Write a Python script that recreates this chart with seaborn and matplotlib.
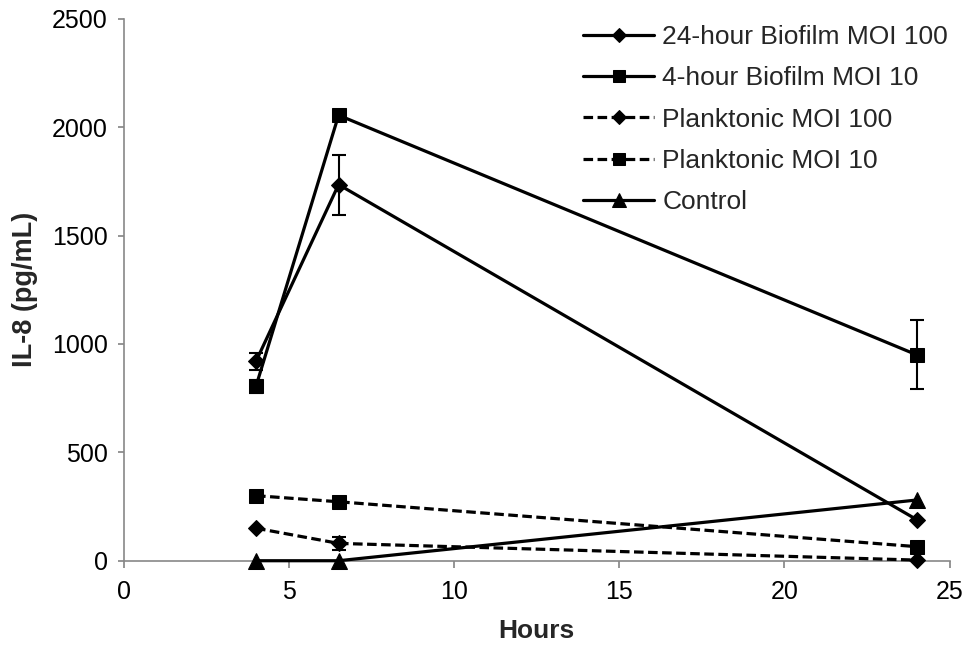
import numpy as np
import pandas as pd
import seaborn as sns
import matplotlib.pyplot as plt

hours = [4, 6.5, 24]
series_names = ["24-hour Biofilm MOI 100", "4-hour Biofilm MOI 10",
                "Planktonic MOI 100", "Planktonic MOI 10", "Control"]
biofilm24_moi100 = [920, 1735, 190]
biofilm4_moi10 = [805, 2055, 950]
plank_moi100 = [150, 80, 3]
plank_moi10 = [300, 272, 65]
control = [0, 0, 280]

err_biofilm24_moi100 = [40, 138, 0]
err_biofilm4_moi10 = [30, 20, 160]
err_plank_moi100 = [0, 30, 0]
err_plank_moi10 = [0, 0, 0]
err_control = [0, 0, 0]

sns.set_theme(style="white")
plt.rcParams['font.family'] = ['Liberation Sans', 'DejaVu Sans']

values = [biofilm24_moi100, biofilm4_moi10, plank_moi100, plank_moi10, control]
errors = [err_biofilm24_moi100, err_biofilm4_moi10, err_plank_moi100, err_plank_moi10, err_control]
markers = ["D", "s", "D", "s", "^"]
msizes = [8.5, 10.5, 8.5, 10.5, 12]
dashed = [False, False, True, True, False]

rows = []
for name, vals, errs in zip(series_names, values, errors):
    for h, v, e in zip(hours, vals, errs):
        rows.append({"Hours": h, "IL8": v, "err": e, "series": name})
df = pd.DataFrame(rows)

fig = plt.figure(figsize=(9.68, 6.46), dpi=100)
ax = fig.add_axes([0.128, 0.132, 0.853, 0.839])

for name, m, ms, d in zip(series_names, markers, msizes, dashed):
    sub = df[df["series"] == name]
    sns.lineplot(data=sub, x="Hours", y="IL8", ax=ax, color="black",
                 linewidth=2.3, linestyle=(0, (3, 1.4)) if d else "-",
                 marker=m, markersize=ms, markeredgecolor="black",
                 label=name, zorder=3, clip_on=False)
    sub_e = sub[sub["err"] > 0]
    ax.errorbar(sub_e["Hours"], sub_e["IL8"], yerr=sub_e["err"], fmt="none",
                ecolor="black", elinewidth=1.5, capsize=4.7, capthick=1.5, zorder=2)

ax.set_xlim(0, 25)
ax.set_ylim(0, 2500)
ax.set_xticks([0, 5, 10, 15, 20, 25])
ax.set_yticks([0, 500, 1000, 1500, 2000, 2500])
ax.set_xlabel("Hours", fontsize=19, fontweight="bold", labelpad=11)
ax.set_ylabel("IL-8 (pg/mL)", fontsize=19.5, fontweight="bold", labelpad=10)
ax.tick_params(axis="x", labelsize=18, colors="black", length=5, pad=9,
               direction="out", bottom=True, color="#888888")
ax.tick_params(axis="y", labelsize=18, colors="black", length=4.5, pad=7,
               direction="out", left=True, color="#888888")
for s in ["top", "right"]:
    ax.spines[s].set_visible(False)
for s in ["left", "bottom"]:
    ax.spines[s].set_color("#888888")
    ax.spines[s].set_linewidth(1.2)

ax.legend(loc="upper left", bbox_to_anchor=(0.5915, 0.978), bbox_transform=fig.transFigure,
          frameon=False, fontsize=19, handlelength=2.7, handletextpad=0.3,
          labelspacing=0.66, markerscale=0.85, borderaxespad=0)

fig.savefig("out.png", dpi=100)
